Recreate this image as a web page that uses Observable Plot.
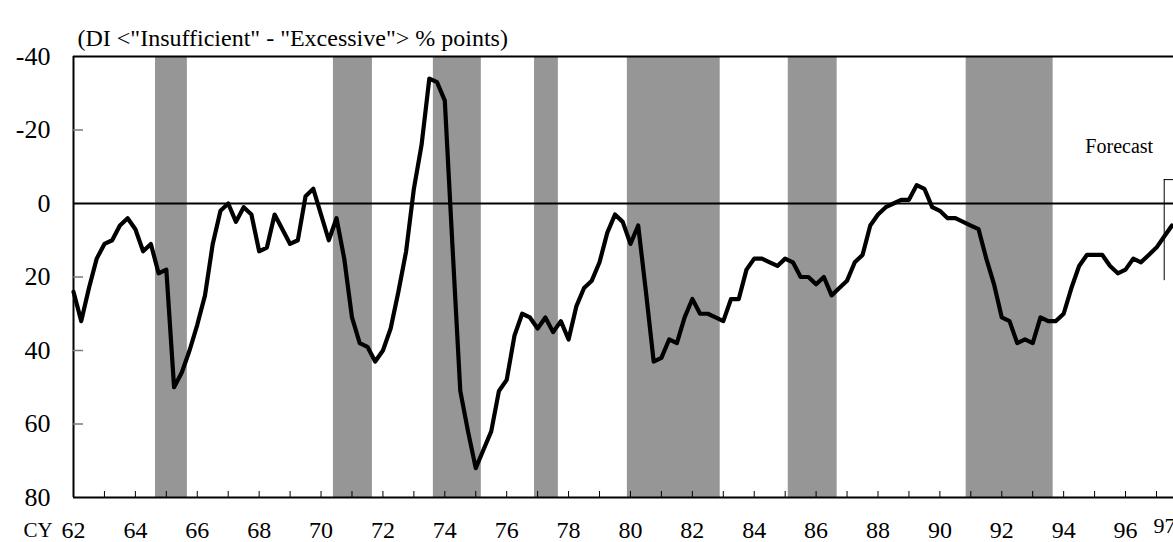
<!DOCTYPE html>
<html>
<head>
<meta charset="utf-8">
<script src="https://cdn.jsdelivr.net/npm/d3@7"></script>
<script src="https://cdn.jsdelivr.net/npm/@observablehq/plot@0.6"></script>
<style>
  html, body { margin: 0; padding: 0; background: #fff; }
  #chart svg { display: block; }
</style>
</head>
<body>
<div id="chart"></div>
<script>
// ---- data ----
const startYear = 62;              // first quarter: CY62 Q1
const quartersPerYear = 4;
const diValues = [
  24, 32, 23, 15, 11, 10, 6, 4, 7, 13, 11, 19,          // 62-64
  18, 50, 46, 40, 33, 25, 11, 2, 0, 5, 1, 3,            // 65-67
  13, 12, 3, 7, 11, 10, -2, -4, 3, 10, 4, 15,           // 68-70
  31, 38, 39, 43, 40, 34, 24, 13, -4, -16, -34, -33,    // 71-73
  -28, 12, 51, 62, 72, 67, 62, 51, 48, 36, 30, 31,      // 74-76
  34, 31, 35, 32, 37, 28, 23, 21, 16, 8, 3, 5,          // 77-79
  11, 6, 24, 43, 42, 37, 38, 31, 26, 30, 30, 31,        // 80-82
  32, 26, 26, 18, 15, 15, 16, 17, 15, 16, 20, 20,       // 83-85
  22, 20, 25, 23, 21, 16, 14, 6, 3, 1, 0, -1,           // 86-88
  -1, -5, -4, 1, 2, 4, 4, 5, 6, 7, 15, 22,              // 89-91
  31, 32, 38, 37, 38, 31, 32, 32, 30, 23, 17, 14,       // 92-94
  14, 14, 17, 19, 18, 15, 16, 14, 12, 9, 6              // 95-97Q3
];
const recessionStarts = [64.65, 70.4, 73.63, 76.9, 79.9, 85.1, 90.85];
const recessionEnds   = [65.68, 71.66, 75.18, 77.67, 82.9, 86.68, 93.66];
const yTicks = [-40, -20, 0, 20, 40, 60, 80];
const innerYTicks = [-20, 20, 40, 60];
const xLabelYears = [62, 64, 66, 68, 70, 72, 74, 76, 78, 80, 82, 84, 86, 88, 90, 92, 94, 96];
const lastLabelYear = [97];
const xTickYears = d3.range(63, 98);
const forecastStart = 97.25;
const forecastArrowEnd = 97.8;
const forecastTop = -6.5;
const forecastBottom = 21;
const titleText = '(DI <"Insufficient" - "Excessive"> % points)';
const forecastText = "Forecast";
const axisPrefix = "CY";
const xDomain = [62, 97.55];
const yDomain = [-40, 80];

// ---- tables built from the arrays ----
const series = diValues.map((v, i) => ({t: startYear + i / quartersPerYear, v}));
const recessions = recessionStarts.map((s, i) => ({start: s, end: recessionEnds[i]}));

// ---- layout ----
const W = 1173, H = 542;
const mT = 56, mB = 45, mL = 73, mR = 0;
const innerW = W - mL - mR, innerH = H - mT - mB;
const font = "'Liberation Serif', 'Times New Roman', Times, serif";

const chart = Plot.plot({
  width: W,
  height: H,
  marginTop: mT,
  marginBottom: mB,
  marginLeft: mL,
  marginRight: mR,
  style: {fontFamily: font, fontSize: "24px", background: "#fff", color: "#000", overflow: "visible"},
  x: {domain: xDomain},
  y: {domain: yDomain, reverse: true},
  marks: [
    Plot.rect(recessions, {x1: "start", x2: "end", fill: "#969696"}),
    Plot.ruleY([0], {stroke: "#000", strokeWidth: 2}),
    Plot.ruleY([yDomain[0], yDomain[1]], {stroke: "#000", strokeWidth: 2}),
    Plot.ruleX([xDomain[0]], {stroke: "#000", strokeWidth: 2}),
    Plot.tickY(innerYTicks, {y: d => d, insetRight: innerW - 10, stroke: "#7a7a7a", strokeWidth: 1.5}),
    Plot.tickX(xTickYears, {x: d => d, insetTop: innerH - 6, stroke: "#000", strokeWidth: 1}),
    Plot.axisY({ticks: yTicks, tickSize: 0, tickPadding: 23, fontSize: 26, tickFormat: d => `${d}`, label: null}),
    Plot.axisX({ticks: xLabelYears, tickSize: 0, tickPadding: 23, fontSize: 24, tickFormat: d => `${d}`, label: null}),
    Plot.text(lastLabelYear, {x: d => d, frameAnchor: "bottom", dx: 8, dy: 20, lineAnchor: "top", fontSize: 22, text: d => `${d}`}),
    Plot.text([axisPrefix], {frameAnchor: "bottom-left", dx: -50, dy: 25, lineAnchor: "top", fontSize: 21}),
    Plot.line(series, {x: "t", y: "v", stroke: "#000", strokeWidth: 4.2, strokeLinejoin: "round"}),
    Plot.ruleX([forecastStart], {y1: forecastTop, y2: forecastBottom, stroke: "#000", strokeWidth: 1}),
    Plot.arrow([forecastStart], {x1: d => d, x2: forecastArrowEnd, y1: forecastTop, y2: forecastTop, stroke: "#000", strokeWidth: 1, headLength: 14, bend: 0}),
    Plot.text([forecastText], {x: forecastStart, y: forecastTop, dx: -45, dy: -27, lineAnchor: "bottom", fontSize: 20}),
    Plot.text([titleText], {frameAnchor: "top-left", dx: 4, dy: -11, lineAnchor: "bottom", textAnchor: "start", fontSize: 24})
  ]
});
document.getElementById("chart").appendChild(chart);
</script>
</body>
</html>
